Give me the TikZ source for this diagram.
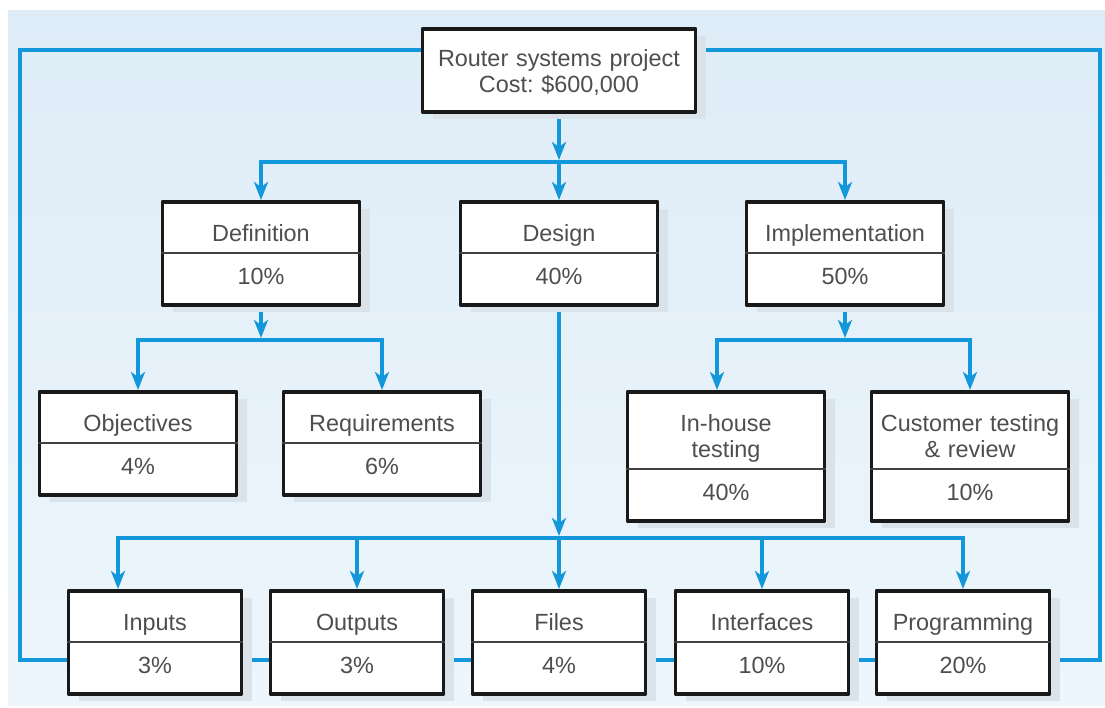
\documentclass[tikz,border=0pt]{standalone}
\usepackage{fontspec}
\setmainfont{Liberation Sans}
\usepackage{tikz}
\usetikzlibrary{arrows.meta,shapes.multipart,shadows}
\definecolor{wbsblue}{RGB}{18,152,218}
\definecolor{wbstext}{RGB}{78,78,78}
\definecolor{wbsshadow}{RGB}{219,227,234}
\newcommand{\ttl}[1]{\rule{0pt}{34pt}#1\rule[-6pt]{0pt}{6pt}}
\newcommand{\pct}[1]{\rule{0pt}{25pt}#1\rule[-15pt]{0pt}{15pt}}
\pgfdeclarelayer{panel}
\pgfdeclarelayer{links}
\pgfsetlayers{panel,links,main}

\begin{document}
\begin{tikzpicture}[x=1pt,y=-1pt,join=round, % Router WBS
  box/.style={draw=black!90,line width=3.5pt,fill=white,text=wbstext,
    font=\fontsize{23.4pt}{26pt}\selectfont,align=center,
    inner xsep=4pt,inner ysep=4pt,text width=189pt,anchor=north,
    drop shadow={shadow xshift=10pt,shadow yshift=-7pt,fill=wbsshadow,opacity=1}},
  wbs/.style={box,rectangle split,rectangle split parts=2,
    rectangle split draw splits=false},
  narrow/.style={text width=165pt},
  midline/.style={black!75,line width=1.8pt},
  link/.style={wbsblue,line width=4pt,line cap=rect},
  flow/.style={link,-{Stealth[length=18pt,width=14pt,inset=5pt]}}]
       \useasboundingbox (0,0) rectangle (1105,707);
       \begin{pgfonlayer}{panel}
       \shade[top color={rgb,255:red,222;green,236;blue,247},
              bottom color={rgb,255:red,237;green,246;blue,252}] (8,10) rectangle (1105,705);
       \end{pgfonlayer}
       % boxes
       \node[box,text width=265pt] (root) at (559,27)
            {\rule{0pt}{34pt}Router systems project\\Cost:\ \$600,000\rule[-15pt]{0pt}{15pt}};
       \node[wbs] (def) at (261,200) {\ttl{Definition}\nodepart{two}\pct{10\%}};
       \node[wbs] (des) at (559,200) {\ttl{Design}\nodepart{two}\pct{40\%}};
       \node[wbs] (imp) at (845,200) {\ttl{Implementation}\nodepart{two}\pct{50\%}};
       \node[wbs] (obj) at (138,390) {\ttl{Objectives}\nodepart{two}\pct{4\%}};
       \node[wbs] (req) at (382,390) {\ttl{Requirements}\nodepart{two}\pct{6\%}};
       \node[wbs] (inh) at (726,390) {\ttl{In-house\\testing}\nodepart{two}\pct{40\%}};
       \node[wbs] (cus) at (970,390) {\ttl{Customer testing\\\& review}\nodepart{two}\pct{10\%}};
       \node[wbs,narrow] (inp) at (155,589) {\ttl{Inputs}\nodepart{two}\pct{3\%}};
       \node[wbs,narrow] (out) at (357,589) {\ttl{Outputs}\nodepart{two}\pct{3\%}};
       \node[wbs,narrow] (fil) at (559,589) {\ttl{Files}\nodepart{two}\pct{4\%}};
       \node[wbs,narrow] (itf) at (762,589) {\ttl{Interfaces}\nodepart{two}\pct{10\%}};
       \node[wbs,narrow] (prg) at (963,589) {\ttl{Programming}\nodepart{two}\pct{20\%}};
       \foreach \n in {def,des,imp,obj,req,inh,cus,inp,out,fil,itf,prg}
            \draw[midline] (\n.text split west) -- (\n.text split east);
       % connectors
       \begin{pgfonlayer}{links}
       \coordinate (lt) at (20,50);
       \coordinate (rb) at (1100,660);
       \coordinate (b1) at (0,162);
       \coordinate (b2) at (0,340);
       \coordinate (b3) at (717,340);
       \coordinate (b4) at (118,538);
       \draw[link] (root.west |- lt) -- (lt) -- (lt |- rb) -- (rb) -- (rb |- lt) -- (root.east |- lt);
       \draw[flow,shorten >=2pt] (root.south) -- (root.south |- b1);
       \draw[link] (def.north |- b1) -- (imp.north |- b1);
       \foreach \n in {def,des,imp} \draw[flow] (\n.north |- b1) -- (\n.north);
       \draw[flow,shorten >=2pt] (def.south) -- (def.south |- b2);
       \draw[link] (obj.north |- b2) -- (req.north |- b2);
       \foreach \n in {obj,req} \draw[flow] (\n.north |- b2) -- (\n.north);
       \draw[flow,shorten >=2pt] (imp.south) -- (imp.south |- b3);
       \draw[link] (b3) -- (cus.north |- b3);
       \draw[flow] (b3) -- (b3 |- inh.north);
       \draw[flow] (cus.north |- b3) -- (cus.north);
       \draw[flow,shorten >=2pt] (des.south) -- (des.south |- b4);
       \draw[link] (b4) -- (prg.north |- b4);
       \draw[flow] (b4) -- (b4 |- inp.north);
       \foreach \n in {out,fil,itf,prg} \draw[flow] (\n.north |- b4) -- (\n.north);
       \end{pgfonlayer}
\end{tikzpicture}
\end{document}
